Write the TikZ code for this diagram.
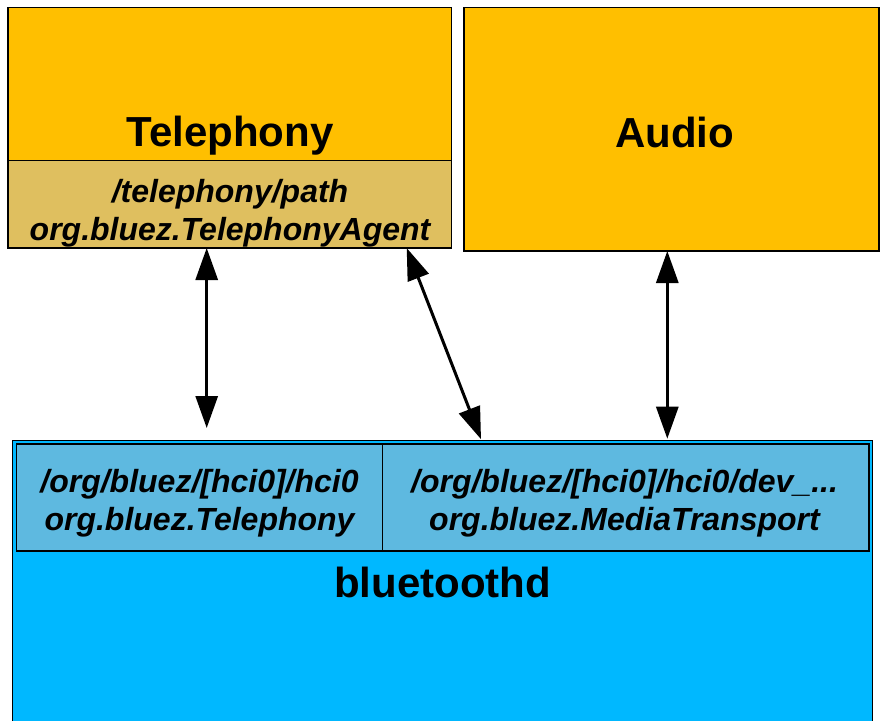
\documentclass[tikz,border=0pt]{standalone}
\usepackage{fontspec}
\setmainfont{Liberation Sans}
\usetikzlibrary{arrows.meta,calc}
\definecolor{gold}{HTML}{FFBF00}
\definecolor{tanbox}{HTML}{DFBF5F}
\definecolor{sky}{HTML}{00B8FF}
\definecolor{pale}{HTML}{5EB9E0}
\begin{document}
\begin{tikzpicture}[x=1pt,y=-1pt,
  box/.style={draw=black, line width=1.5pt, inner sep=0pt, outer sep=0pt, anchor=north west},
  big/.style={font=\fontsize{42}{50}\selectfont\bfseries, inner sep=0pt},
  ital/.style={font=\fontsize{32}{38}\selectfont\bfseries\itshape, align=center, inner sep=0pt},
  conn/.style={line width=3pt, {Triangle[length=32pt,width=22pt]}-{Triangle[length=32pt,width=22pt]}}]
\useasboundingbox (0,0) rectangle (880,720);
\clip (0,0) rectangle (880,720);
% Telephony
\node[box, fill=gold, minimum width=443.7pt, minimum height=240.5pt] (tel) at (8,7.5) {};
\node[box, fill=tanbox, minimum width=443.7pt, minimum height=87.3pt] (agent) at (8,160.7) {};
\node[big, anchor=base] (teltxt) at (230,146) {Telephony};
\node[ital] (agenttxt) at (230,213.4) {/telephony/path\\org.bluez.TelephonyAgent};
% Audio
\node[box, fill=gold, minimum width=415pt, minimum height=243.5pt] (audio) at (464,7.5) {};
\node[big, anchor=base] (audiotxt) at (674.7,147) {Audio};
% bluetoothd
\node[box, fill=sky, line width=1pt, minimum width=859.6pt, minimum height=290pt] (bt) at (12.7,440.7) {};
\node[box, fill=pale, minimum width=365.6pt, minimum height=107pt] (tif) at (16.7,444) {};
\node[box, fill=pale, minimum width=486.7pt, minimum height=107pt] (mif) at (382.3,444) {};
\node[ital] (tiftxt) at (199.5,503.4) {/org/bluez/[hci0]/hci0\\org.bluez.Telephony};
\node[ital] (miftxt) at (624.5,503.4) {/org/bluez/[hci0]/hci0/dev\_...\\org.bluez.MediaTransport};
\node[big, anchor=base] (bttxt) at (442.5,597) {bluetoothd};
% connectors
\draw[conn] ([xshift=198.7pt]agent.south west) -- ([xshift=194pt,yshift=12.7pt]bt.north west);
\draw[conn] ([xshift=398.7pt]agent.south west) -- ([xshift=468.3pt,yshift=1.5pt]bt.north west);
\draw[conn] ([xshift=203.3pt]audio.south west) -- ([xshift=654.6pt,yshift=2pt]bt.north west);
\end{tikzpicture}
\end{document}
